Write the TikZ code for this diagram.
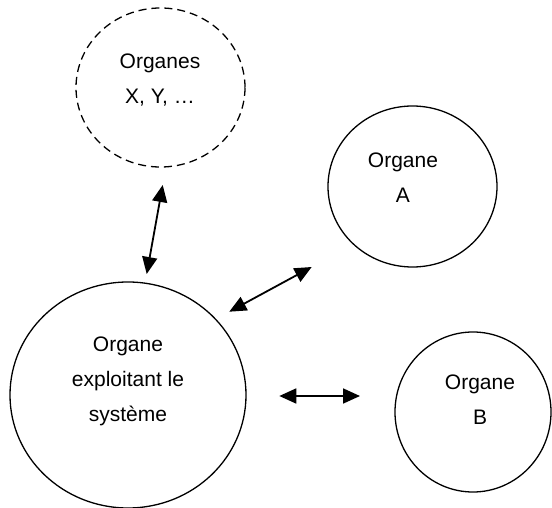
\documentclass[tikz,border=0pt]{standalone}
\usepackage{fontspec}
\setmainfont{Liberation Sans}
\usetikzlibrary{shapes.geometric,arrows.meta}
\begin{document}
\begin{tikzpicture}[x=1pt,y=-1pt,
  organ/.style={ellipse,draw,line width=1.3pt,inner sep=0pt},
  lbl/.style={align=center,font=\fontsize{21}{35}\selectfont},
  link/.style={line width=1.8pt,{Triangle[length=17pt,width=15pt]}-{Triangle[length=17pt,width=15pt]}}]
\useasboundingbox (0,0) rectangle (552,508);
\node[organ,dashed,dash pattern=on 8pt off 5pt,minimum width=169pt,minimum height=159pt] (xy) at (160.5,87.5) {};
\node[organ,minimum width=169pt,minimum height=161pt] (a) at (412.5,186.5) {};
\node[organ,minimum width=236pt,minimum height=226pt] (main) at (128,395) {};
\node[organ,minimum width=156pt,minimum height=160pt] (b) at (473,412) {};
\node[lbl] (txy) at (160,80) {Organes\\X, Y, \dots};
\node[lbl] (ta) at (403,178) {Organe\\A};
\node[lbl] (tmain) at (128,381) {Organe\\exploitant le\\système};
\node[lbl] (tb) at (480,400) {Organe\\B};
\coordinate (v1) at (162.7,185);
\coordinate (v2) at (146.7,274);
\coordinate (d1) at (311.7,267);
\coordinate (d2) at (229.3,311.7);
\coordinate (h1) at (279.3,396);
\coordinate (h2) at (360,396);
\draw[link] (v1) -- (v2);
\draw[link] (d2) -- (d1);
\draw[link] (h1) -- (h2);
\end{tikzpicture}
\end{document}
